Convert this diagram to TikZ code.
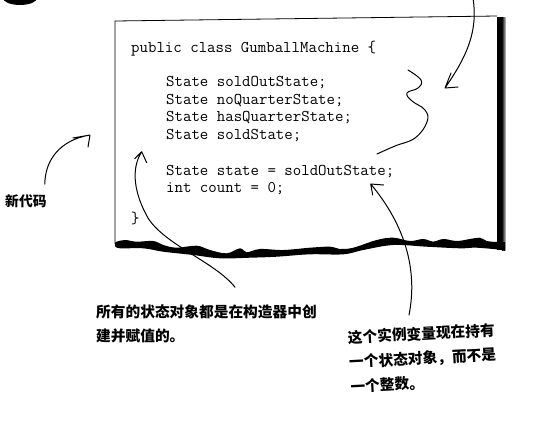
\documentclass[tikz,border=0pt]{standalone}
\usepackage{fontspec}
\newfontfamily\cjk{Noto Sans CJK SC}
\usetikzlibrary{calc}
\begin{document}
\begin{tikzpicture}[x=1pt,y=-1pt,
  code/.style={font=\ttfamily\fontsize{16.4}{17.45}\selectfont, anchor=base west, inner sep=0pt},
  hand/.style={line width=1pt, line cap=round, line join=round},
  note/.style={font=\cjk\bfseries\fontsize{14.7}{24.5}\selectfont, align=left, inner sep=0pt}]
\useasboundingbox (0,0) rectangle (536,421);
\fill[white] (0,0) rectangle (536,421);

% ink blob at top left
\fill[black] (20,-2) ellipse [x radius=17, y radius=7];

% torn paper box
\draw[line width=0.8pt] (115,244) -- (115,21) -- (497,16);
\fill[black] (497,17) rectangle (502,250);
\shade[left color=black, right color=black!25] (501.8,17) rectangle (505.5,250);
\fill[black] plot[smooth,tension=0.6] coordinates {(115,243) (116.7,241.7) (125,240) (136.7,241.7) (153.3,241) (163.3,245) (176.7,247.7) (196.7,245.7) (210,250) (226.7,253.3) (240,248.3) (246.7,252.3) (260,249) (283.3,250) (310,247.7) (330,246.7) (340,249) (353.3,247.7) (376.7,240) (393.3,237.7) (410,241) (423.3,239) (433.3,241.7) (443.3,239) (456.7,241) (470,239) (480,237.7) (486.7,241) (497,242)}
  -- (505,242) -- (505,251)
  -- plot[smooth,tension=0.6] coordinates {(503.3,250) (476.7,247.7) (460,248.3) (426.7,246.7) (393.3,245) (363.3,250) (343.3,254.3) (310,254.3) (276.7,256.7) (250,257.7) (220,258.3) (193.3,255) (163.3,251.7) (143.3,248.3) (120,248.3) (115,246)} -- cycle;

% code
\node[code] (l0) at (131,52) {public class GumballMachine \{};
\node[code] (l1) at (166,86.7) {State soldOutState;};
\node[code] (l2) at (166,104.2) {State noQuarterState;};
\node[code] (l3) at (166,121.7) {State hasQuarterState;};
\node[code] (l4) at (166,139.1) {State soldState;};
\node[code] (l5) at (166,175) {State state = soldOutState;};
\node[code] (l6) at (166,192.5) {int count = 0;};
\node[code] (l7) at (131,223.5) {\}};

% notes
\node[note, anchor=west, font=\cjk\bfseries\fontsize{13.8}{16}\selectfont] (newcode) at (5,201) {新代码};
\node[note, anchor=west] (ctor) at (96,323.8) {所有的状态对象都是在构造器中创\\建并赋值的。};
\node[note, anchor=west, rotate=3] (inst) at (349,362) {这个实例变量现在持有\\一个状态对象，而不是\\一个整数。};

% arrows
\coordinate (tipA) at (90,135);
\coordinate (tipB) at (141.7,151.7);
\coordinate (tipC) at (370.7,184);
\coordinate (tipD) at (445,88);
\coordinate (instTop) at (409,315);
\coordinate (topR) at (473,-2);

\draw[hand] ($(newcode.north east)+(-2,-10)$) .. controls (45,160) and (60,140) .. (tipA) -- ++(-17,3) (tipA) -- ++(-2,12);
\draw[hand] ($(ctor.north west)+(139,-17)$) .. controls (215,262) and (165,245) .. (148,218) .. controls (135,195) and (130,170) .. (tipB) -- ++(-7,7) (tipB) -- ++(5,11);
\draw[hand] (instTop) .. controls (418,270) and (405,225) .. (tipC) -- ++(13,1) (tipC) -- ++(2,11);
\draw[hand] (topR) .. controls (478,30) and (468,55) .. (tipD) -- ++(6,-15) (tipD) -- ++(13,-1);

% brace squiggle
\draw[hand] plot[smooth, tension=0.7] coordinates {(408,70) (421,80) (418,88) (407,93) (412,101) (425,110) (427,122) (415,138) (395,146) (377,154)};
\end{tikzpicture}
\end{document}
